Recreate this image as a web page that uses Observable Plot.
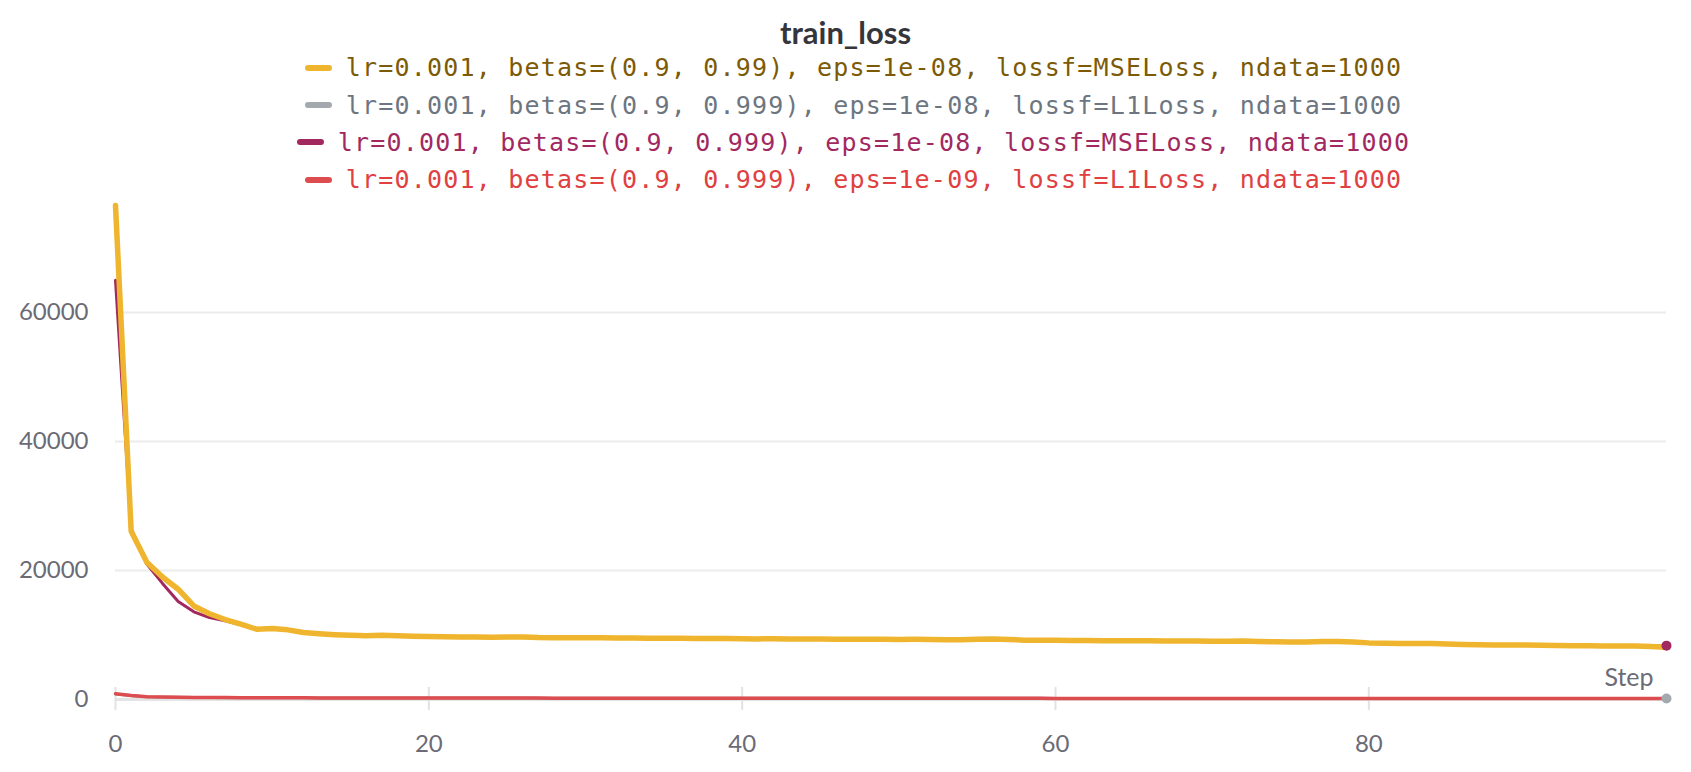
<!DOCTYPE html>
<html>
<head>
<meta charset="utf-8">
<script src="https://cdn.jsdelivr.net/npm/d3@7"></script>
<script src="https://cdn.jsdelivr.net/npm/@observablehq/plot@0.6"></script>
<style>
  html, body { margin: 0; padding: 0; background: #ffffff; width: 1691px; height: 772px; overflow: hidden; }
  #head { position: relative; height: 190px; width: 1691px; }
  #title { position: absolute; top: 12px; left: 0; width: 1691px; height: 40px; line-height: 40px; text-align: center;
           font-family: Lato, "Noto Sans", sans-serif; font-weight: bold; font-size: 31px; color: #35363c; }
  #legend { position: absolute; top: 49px; left: 8px; width: 1691px; }
  .row { height: 37.4px; display: flex; align-items: center; justify-content: center; }
  .sw { width: 27px; height: 6px; border-radius: 3px; margin-right: 14px; }
  .lt { font-family: "DejaVu Sans Mono", "Liberation Mono", monospace; font-size: 25px; letter-spacing: 1.2px; white-space: pre; }
</style>
</head>
<body>
<div id="head">
  <div id="title"></div>
  <div id="legend"></div>
</div>
<div id="chart"></div>
<script>
const chartTitle = "train_loss";
const xAxisLabel = "Step";
const seriesNames = [
  "lr=0.001, betas=(0.9, 0.99), eps=1e-08, lossf=MSELoss, ndata=1000",
  "lr=0.001, betas=(0.9, 0.999), eps=1e-08, lossf=L1Loss, ndata=1000",
  "lr=0.001, betas=(0.9, 0.999), eps=1e-08, lossf=MSELoss, ndata=1000",
  "lr=0.001, betas=(0.9, 0.999), eps=1e-09, lossf=L1Loss, ndata=1000"
];
const lineColors = ["#efb52f", "#a4a9b0", "#a2295f", "#dd4c4e"];
const textColors = ["#7d5a06", "#6d7680", "#a2295f", "#e0403f"];
const xTicks = [0, 20, 40, 60, 80];
const yTicks = [0, 20000, 40000, 60000];

// series 0: betas 0.99, MSE
const lossMseB99 = [
  76600, 26100, 21300, 19000, 17100, 14500, 13300, 12400, 11700, 10900,
  11000, 10800, 10400, 10200, 10050, 9950, 9900, 9950, 9880, 9800,
  9750, 9720, 9700, 9680, 9650, 9700, 9680, 9600, 9580, 9570,
  9560, 9560, 9550, 9520, 9500, 9500, 9480, 9460, 9450, 9440,
  9420, 9400, 9410, 9390, 9380, 9370, 9360, 9350, 9360, 9330,
  9320, 9340, 9310, 9250, 9260, 9350, 9400, 9320, 9200, 9180,
  9200, 9150, 9130, 9120, 9120, 9110, 9120, 9090, 9080, 9060,
  9040, 9050, 9080, 9000, 8950, 8920, 8900, 8980, 9000, 8900,
  8780, 8720, 8700, 8690, 8680, 8600, 8520, 8480, 8460, 8450,
  8440, 8420, 8390, 8350, 8320, 8300, 8290, 8280, 8200, 8100
];
// series 1: betas 0.999, eps 1e-08, L1
const lossL1E8 = [
  860, 600, 420, 365, 335, 318, 303, 290, 281, 273,
  266, 260, 255, 250, 246, 242, 239, 236, 233, 230,
  228, 226, 223, 221, 219, 217, 215, 213, 212, 210,
  208, 207, 205, 204, 202, 201, 199, 198, 197, 196,
  194, 193, 192, 191, 190, 189, 188, 186, 185, 184,
  183, 182, 181, 180, 180, 179, 178, 177, 176, 175,
  174, 173, 172, 171, 170, 170, 169, 168, 167, 166,
  166, 165, 164, 163, 162, 162, 161, 160, 160, 159,
  158, 157, 157, 156, 155, 154, 154, 153, 152, 152,
  151, 150, 150, 149, 148, 148, 147, 147, 146, 145
];
// series 2: betas 0.999, eps 1e-08, MSE
const lossMseB999 = [
  65000, 26500, 21000, 18000, 15200, 13600, 12700, 12200, 11600, 10850,
  10950, 10750, 10380, 10180, 10030, 9940, 9880, 9930, 9860, 9790,
  9740, 9710, 9690, 9670, 9640, 9690, 9670, 9590, 9570, 9560,
  9550, 9550, 9540, 9510, 9490, 9490, 9470, 9450, 9440, 9430,
  9410, 9390, 9400, 9380, 9370, 9360, 9350, 9340, 9350, 9320,
  9310, 9330, 9300, 9240, 9250, 9340, 9390, 9310, 9190, 9170,
  9190, 9140, 9120, 9110, 9110, 9100, 9110, 9080, 9070, 9050,
  9030, 9040, 9070, 8990, 8940, 8910, 8890, 8970, 8990, 8890,
  8770, 8710, 8690, 8680, 8670, 8590, 8510, 8470, 8450, 8440,
  8430, 8410, 8380, 8340, 8310, 8300, 8290, 8290, 8260, 8350
];
// series 3: betas 0.999, eps 1e-09, L1
const lossL1E9 = [
  900, 620, 430, 370, 340, 320, 305, 292, 282, 274,
  267, 261, 256, 251, 247, 243, 240, 237, 234, 231,
  229, 226, 224, 222, 220, 218, 216, 214, 212, 211,
  209, 207, 206, 204, 203, 201, 200, 199, 197, 196,
  195, 194, 192, 191, 190, 189, 188, 187, 186, 185,
  184, 183, 182, 181, 180, 179, 178, 177, 176, 175,
  174, 173, 172, 172, 171, 170, 169, 168, 167, 167,
  166, 165, 164, 163, 163, 162, 161, 160, 160, 159,
  158, 157, 157, 156, 155, 155, 154, 153, 153, 152,
  151, 151, 150, 149, 149, 148, 148, 147, 146, 146
];

const seriesValues = [lossMseB99, lossL1E8, lossMseB999, lossL1E9];
const rows = seriesValues.map((vals, s) => vals.map((v, i) => ({step: i, loss: v, s})));

// header
document.getElementById("title").textContent = chartTitle;
const leg = document.getElementById("legend");
seriesNames.forEach((name, i) => {
  const r = document.createElement("div"); r.className = "row";
  const sw = document.createElement("span"); sw.className = "sw"; sw.style.background = lineColors[i];
  const t = document.createElement("span"); t.className = "lt"; t.style.color = textColors[i]; t.textContent = name;
  r.appendChild(sw); r.appendChild(t); leg.appendChild(r);
});

const lastSteps = seriesValues.map(v => v.length - 1);
const ymax = d3.max(lossMseB99);
const tickGray = "#6b6b76";

const lineMark = (s, w) => Plot.line(rows[s], {x: "step", y: "loss", stroke: lineColors[s], strokeWidth: w, strokeLinejoin: "round", strokeLinecap: "round"});
const endDot = (s) => Plot.dot([rows[s][rows[s].length - 1]], {x: "step", y: "loss", r: 5, fill: lineColors[s], stroke: "none"});

const chart = Plot.plot({
  width: 1691,
  height: 582,
  marginTop: 15,
  marginBottom: 73,
  marginLeft: 115,
  marginRight: 25,
  style: {background: "#ffffff", fontFamily: "Lato, 'Noto Sans', sans-serif", fontSize: "24px"},
  x: {domain: [0, d3.max(lastSteps)], label: null},
  y: {domain: [0, ymax], label: null},
  marks: [
    Plot.gridY(yTicks.slice(1), {stroke: "#ececec", strokeOpacity: 1, strokeWidth: 2}),
    Plot.ruleY([0], {stroke: "#e4e4e4", strokeWidth: 3}),
    Plot.axisX(xTicks, {tickSize: 23, dy: -12, stroke: "#e2e2e2", strokeWidth: 2, tickFormat: () => "", label: null}),
    Plot.axisX(xTicks, {tickSize: 0, tickPadding: 35, fill: tickGray, label: null, tickFormat: d3.format("d")}),
    Plot.axisY(yTicks, {tickSize: 0, tickPadding: 27, fill: tickGray, label: null, tickFormat: d3.format("d")}),
    lineMark(2, 3),
    lineMark(1, 3),
    lineMark(0, 5.5),
    lineMark(3, 3.5),
    endDot(2),
    endDot(1),
    Plot.text([xAxisLabel], {frameAnchor: "bottom-right", dx: -13, dy: -14, fill: tickGray, fontSize: 25, textAnchor: "end"})
  ]
});
document.getElementById("chart").appendChild(chart);
</script>
</body>
</html>
